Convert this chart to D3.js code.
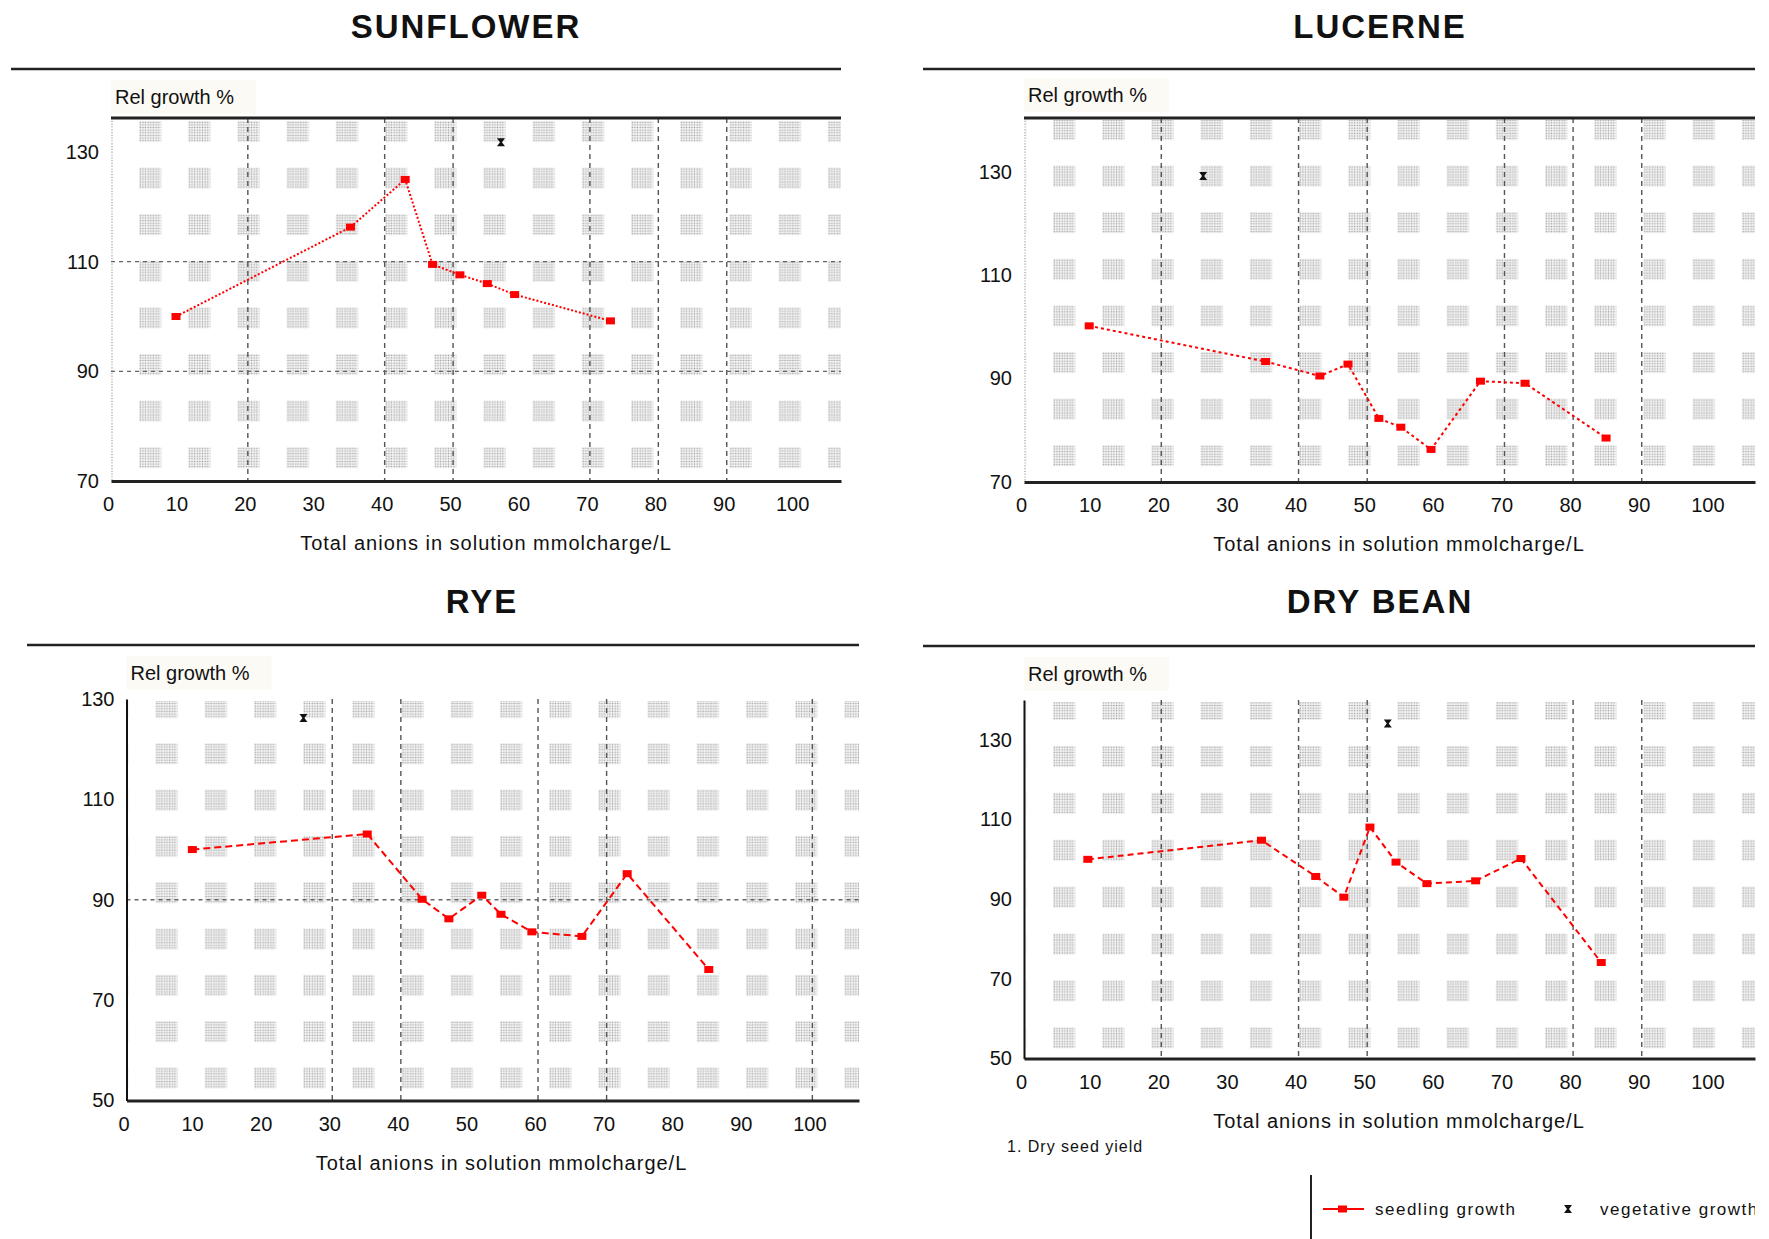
<!DOCTYPE html>
<html>
<head>
<meta charset="utf-8">
<script src="https://cdn.jsdelivr.net/npm/d3@7"></script>
<style>
  body { margin: 0; background: #fff; }
  text { font-family: "Liberation Sans", Arial, sans-serif; fill: #111; }
</style>
</head>
<body>
<div id="vis"></div>
<script>
// values
var xTicks = [0, 10, 20, 30, 40, 50, 60, 70, 80, 90, 100];

var sunflowerX = [9.5, 35, 43, 47, 51, 55, 59, 73];
var sunflowerY = [100, 116.3, 125, 109.5, 107.6, 106, 104, 99.2];
var sunflowerVeg = [57, 131.8];
var sunflowerTicks = [70, 90, 110, 130];
var sunflowerGridX = [20, 40, 50, 70, 80, 90];
var sunflowerGridY = [90, 110];

var lucerneX = [9.5, 35.2, 43.1, 47.2, 51.7, 54.9, 59.3, 66.5, 73, 84.8];
var lucerneY = [100.2, 93.3, 90.5, 92.8, 82.3, 80.6, 76.3, 89.5, 89.1, 78.5];
var lucerneVeg = [26.1, 129.2];
var lucerneTicks = [70, 90, 110, 130];
var lucerneGridX = [20, 40, 50, 70, 80, 90];
var lucerneGridY = [];

var ryeX = [9.6, 35.1, 43.1, 47, 51.8, 54.6, 59.1, 66.4, 73, 84.9];
var ryeY = [100, 103.1, 90.1, 86.2, 90.9, 87.1, 83.6, 82.7, 95.2, 76.1];
var ryeVeg = [25.8, 126.2];
var ryeTicks = [50, 70, 90, 110, 130];
var ryeGridX = [30, 40, 60, 70, 100];
var ryeGridY = [90];

var beanX = [9.3, 34.6, 42.5, 46.6, 50.4, 54.2, 58.7, 65.8, 72.4, 84.1];
var beanY = [100, 104.8, 95.7, 90.5, 108.1, 99.3, 93.9, 94.6, 100.2, 74.1];
var beanVeg = [53, 134.1];
var beanTicks = [50, 70, 90, 110, 130];
var beanGridX = [20, 40, 50, 80, 90];
var beanGridY = [];

var svg = d3.select('#vis').append('svg')
    .attr('width', 1769)
    .attr('height', 1239);

var defs = svg.append('defs');

// fine stipple used inside the grey blocks of the background
defs.append('pattern')
    .attr('id', 'dots')
    .attr('patternUnits', 'userSpaceOnUse')
    .attr('width', 2.6).attr('height', 2.6)
  .append('rect')
    .attr('x', 0.6).attr('y', 0.6)
    .attr('width', 1.4).attr('height', 1.4)
    .attr('fill', '#8f8f8f');

function drawPanel(id, cfg, xs, ys, veg, yTicks, gridX, gridY) {
    var x = d3.scaleLinear().domain([0, cfg.xMax]).range([cfg.left, cfg.right]);
    var y = d3.scaleLinear().domain([cfg.yMin, cfg.yMax]).range([cfg.bottom, cfg.top]);

    var g = svg.append('g');

    // title + rule
    g.append('text')
        .attr('x', cfg.titleX).attr('y', cfg.titleY)
        .attr('text-anchor', 'middle')
        .attr('dominant-baseline', 'central')
        .style('font-size', '33px')
        .style('font-weight', 'bold')
        .style('letter-spacing', '2px')
        .text(cfg.title);
    g.append('line')
        .attr('x1', cfg.ruleX1).attr('x2', cfg.right)
        .attr('y1', cfg.ruleY).attr('y2', cfg.ruleY)
        .attr('stroke', '#222').attr('stroke-width', 2.5);

    // y label box
    g.append('rect')
        .attr('x', cfg.left).attr('y', cfg.labelY - 17)
        .attr('width', 145).attr('height', 34)
        .attr('fill', '#fcfaf5');
    g.append('text')
        .attr('x', cfg.left + 4).attr('y', cfg.labelY)
        .attr('dominant-baseline', 'central')
        .style('font-size', '20px')
        .text('Rel growth %');

    // stippled background blocks
    var pid = 'blk' + id;
    var p = defs.append('pattern')
        .attr('id', pid)
        .attr('patternUnits', 'userSpaceOnUse')
        .attr('x', cfg.left + cfg.blockDx).attr('y', cfg.top + cfg.blockDy)
        .attr('width', 49.2).attr('height', cfg.rowPitch);
    p.append('rect')
        .attr('x', 0).attr('y', 0)
        .attr('width', 22).attr('height', 21)
        .attr('fill', 'url(#dots)');
    g.append('rect')
        .attr('x', cfg.left + 2).attr('y', cfg.top + 2)
        .attr('width', cfg.right - cfg.left - 2)
        .attr('height', cfg.bottom - cfg.top - 4)
        .attr('fill', 'url(#' + pid + ')');
    if (!cfg.yAxisLine) {
        g.append('line')
            .attr('x1', cfg.left + 1).attr('x2', cfg.left + 1)
            .attr('y1', cfg.top).attr('y2', cfg.bottom)
            .attr('stroke', '#a0a0a0').attr('stroke-width', 1.2)
            .attr('stroke-dasharray', '1.2,1.6');
    }

    // grid lines
    g.selectAll('.gx').data(gridX).enter().append('line')
        .attr('x1', d => x(d)).attr('x2', d => x(d))
        .attr('y1', cfg.top).attr('y2', cfg.bottom)
        .attr('stroke', '#555').attr('stroke-width', 1.4)
        .attr('stroke-dasharray', '5,4');
    g.selectAll('.gy').data(gridY).enter().append('line')
        .attr('x1', cfg.left).attr('x2', cfg.right)
        .attr('y1', d => y(d)).attr('y2', d => y(d))
        .attr('stroke', '#666').attr('stroke-width', 1.4)
        .attr('stroke-dasharray', '4,4');

    // frame lines
    if (cfg.topLine) {
        g.append('line')
            .attr('x1', cfg.left).attr('x2', cfg.right)
            .attr('y1', cfg.top).attr('y2', cfg.top)
            .attr('stroke', '#222').attr('stroke-width', 3);
    }

    var xAxis = g.append('g')
        .attr('transform', 'translate(0,' + cfg.bottom + ')')
        .call(d3.axisBottom(x).tickValues(xTicks).tickSize(0).tickPadding(16));
    xAxis.select('.domain').attr('stroke', '#222').attr('stroke-width', 3);
    xAxis.selectAll('text')
        .style('font-size', '20px')
        .style('font-family', '"Liberation Sans", Arial, sans-serif')
        .attr('fill', '#111')
        .attr('dx', -3);

    var yAxis = g.append('g')
        .attr('transform', 'translate(' + cfg.left + ',0)')
        .call(d3.axisLeft(y).tickValues(yTicks).tickSize(0).tickPadding(12));
    if (cfg.yAxisLine) {
        yAxis.select('.domain').attr('stroke', '#111').attr('stroke-width', 2);
    } else {
        yAxis.select('.domain').remove();
    }
    yAxis.selectAll('text')
        .style('font-size', '20px')
        .style('font-family', '"Liberation Sans", Arial, sans-serif')
        .attr('fill', '#111');

    g.append('text')
        .attr('x', cfg.left + 375).attr('y', cfg.bottom + 62)
        .attr('text-anchor', 'middle')
        .attr('dominant-baseline', 'central')
        .style('font-size', '20px')
        .style('letter-spacing', '1px')
        .text('Total anions in solution mmolcharge/L');

    // seedling growth series
    var pts = xs.map((v, i) => [v, ys[i]]);
    g.append('path')
        .datum(pts)
        .attr('fill', 'none')
        .attr('stroke', '#ff0000')
        .attr('stroke-width', 2)
        .attr('stroke-dasharray', cfg.dash)
        .attr('d', d3.line().x(d => x(d[0])).y(d => y(d[1])));
    g.selectAll('.mk').data(pts).enter().append('rect')
        .attr('x', d => x(d[0]) - 4.5)
        .attr('y', d => y(d[1]) - 3.5)
        .attr('width', 9).attr('height', 7)
        .attr('fill', '#ff0000');

    // vegetative growth
    g.append('path')
        .attr('transform', 'translate(' + x(veg[0]) + ',' + y(veg[1]) + ')')
        .attr('d', 'M-4,-4L4,-4L1,0L4,4L-4,4L-1,0Z')
        .attr('fill', '#111');
}

drawPanel(0, {title: 'SUNFLOWER', titleX: 466, titleY: 26, ruleX1: 11, ruleY: 69,
    left: 111, right: 841, top: 118, bottom: 481, xMax: 106.7, yMin: 70, yMax: 136.2,
    labelY: 97, topLine: true, yAxisLine: false, blockDx: 28, blockDy: 3, rowPitch: 46.6,
    dash: '2,2'},
    sunflowerX, sunflowerY, sunflowerVeg, sunflowerTicks, sunflowerGridX, sunflowerGridY);

drawPanel(1, {title: 'LUCERNE', titleX: 1380, titleY: 26, ruleX1: 923, ruleY: 69,
    left: 1024, right: 1755, top: 118, bottom: 482, xMax: 106.5, yMin: 70, yMax: 140.4,
    labelY: 95, topLine: true, yAxisLine: false, blockDx: 29, blockDy: 1, rowPitch: 46.6,
    dash: '3,3'},
    lucerneX, lucerneY, lucerneVeg, lucerneTicks, lucerneGridX, lucerneGridY);

drawPanel(2, {title: 'RYE', titleX: 482, titleY: 601, ruleX1: 27, ruleY: 645,
    left: 126.5, right: 859, top: 699, bottom: 1100.5, xMax: 106.8, yMin: 50, yMax: 130,
    labelY: 673, topLine: false, yAxisLine: true, blockDx: 29, blockDy: -2, rowPitch: 46.3,
    dash: '7,4'},
    ryeX, ryeY, ryeVeg, ryeTicks, ryeGridX, ryeGridY);

drawPanel(3, {title: 'DRY BEAN', titleX: 1380, titleY: 601, ruleX1: 923, ruleY: 646,
    left: 1024, right: 1755, top: 700, bottom: 1058.5, xMax: 106.5, yMin: 50, yMax: 140,
    labelY: 674, topLine: false, yAxisLine: true, blockDx: 29, blockDy: -1, rowPitch: 46.9,
    dash: '6,4'},
    beanX, beanY, beanVeg, beanTicks, beanGridX, beanGridY);

// footnote
svg.append('text')
    .attr('x', 1007).attr('y', 1146)
    .attr('dominant-baseline', 'central')
    .style('font-size', '16px')
    .style('letter-spacing', '1px')
    .text('1. Dry seed yield');

// legend
defs.append('clipPath').attr('id', 'legclip')
  .append('rect').attr('x', 1300).attr('y', 1160).attr('width', 455).attr('height', 79);
var leg = svg.append('g').attr('clip-path', 'url(#legclip)');
leg.append('line')
    .attr('x1', 1311).attr('x2', 1311).attr('y1', 1175).attr('y2', 1239)
    .attr('stroke', '#222').attr('stroke-width', 2);
leg.append('line')
    .attr('x1', 1323).attr('x2', 1364).attr('y1', 1209).attr('y2', 1209)
    .attr('stroke', '#ff0000').attr('stroke-width', 2);
leg.append('rect')
    .attr('x', 1338).attr('y', 1205.5).attr('width', 9).attr('height', 7)
    .attr('fill', '#ff0000');
leg.append('text')
    .attr('x', 1375).attr('y', 1209)
    .attr('dominant-baseline', 'central')
    .style('font-size', '17px')
    .style('letter-spacing', '1.5px')
    .text('seedling growth');
leg.append('path')
    .attr('transform', 'translate(1568,1209)')
    .attr('d', 'M-4,-4L4,-4L1,0L4,4L-4,4L-1,0Z')
    .attr('fill', '#111');
leg.append('text')
    .attr('x', 1600).attr('y', 1209)
    .attr('dominant-baseline', 'central')
    .style('font-size', '17px')
    .style('letter-spacing', '1.5px')
    .text('vegetative growth');
</script>
</body>
</html>
